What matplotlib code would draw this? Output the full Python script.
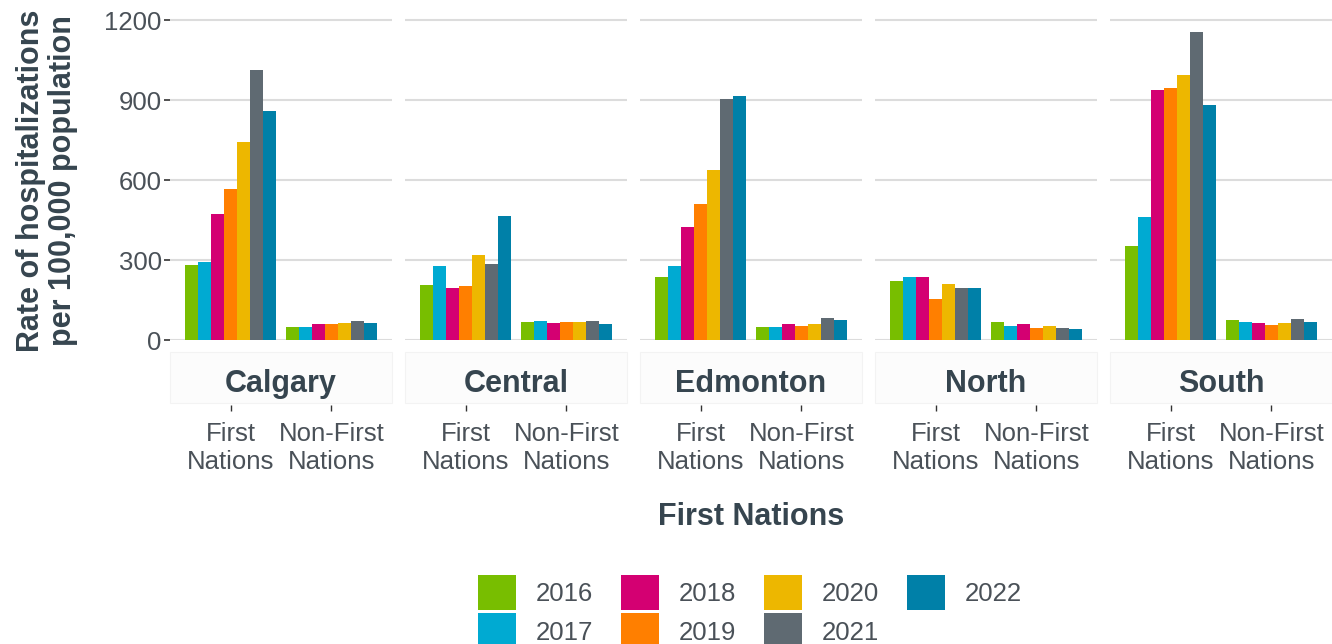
import numpy as np
import matplotlib
matplotlib.use('Agg')
import matplotlib.pyplot as plt
from matplotlib.patches import Patch, Rectangle

plt.rcParams['font.family'] = ['Liberation Sans', 'DejaVu Sans']

# data
regions = ['Calgary', 'Central', 'Edmonton', 'North', 'South']
groups = ['First\nNations', 'Non-First\nNations']
years = ['2016', '2017', '2018', '2019', '2020', '2021', '2022']
year_colors = ['#78BE00', '#00AAD2', '#D40072', '#FF7F00', '#EDB700', '#5F6A72', '#0080A8']

# rows = regions, columns = years
first_nations = [
    [281, 294, 472, 568, 741, 1011, 860],
    [208, 279, 195, 204, 317, 285, 464],
    [238, 279, 424, 509, 638, 905, 915],
    [223, 237, 237, 154, 211, 195, 195],
    [353, 463, 936, 944, 995, 1154, 881],
]
non_first_nations = [
    [47, 50, 61, 59, 64, 72, 65],
    [68, 70, 65, 68, 68, 71, 60],
    [49, 47, 59, 53, 60, 83, 76],
    [66, 53, 59, 46, 54, 46, 40],
    [75, 69, 64, 57, 64, 80, 68],
]

W, H = 1332, 644
fig = plt.figure(figsize=(W / 100, H / 100), dpi=100)

txt_col = '#4A5158'
title_col = '#36454F'
panel_left = [170, 405, 640, 875, 1110]
panel_w = 222
bar_w = 0.9 / len(years)

for r, region in enumerate(regions):
    ax = fig.add_axes([panel_left[r] / W, (H - 340) / H, panel_w / W, 340 / H])
    for j in range(len(years)):
        off = (j - (len(years) - 1) / 2) * bar_w
        ax.bar([1 + off, 2 + off], [first_nations[r][j], non_first_nations[r][j]],
               width=bar_w, color=year_colors[j], zorder=3, linewidth=0)
    ax.set_xlim(0.4, 2.6)
    ax.set_ylim(0, 1275)
    ax.set_yticks([0, 300, 600, 900, 1200])
    ax.yaxis.grid(True, color='#DCDCDC', linewidth=1.5, zorder=0)
    for s in ['top', 'right', 'left']:
        ax.spines[s].set_visible(False)
    ax.spines['bottom'].set_position(('outward', 47))
    ax.spines['bottom'].set_visible(False)
    ax.set_xticks([1, 2])
    ax.set_xticklabels(groups, fontsize=18.5, color=txt_col, linespacing=1.2)
    ax.tick_params(axis='x', length=4, width=1, color='#333333', pad=8)
    if r == 0:
        ax.set_yticklabels(['0', '300', '600', '900', '1200'], fontsize=18.5, color=txt_col)
        ax.tick_params(axis='y', length=4, width=1.2, color='#333333', pad=2)
    else:
        ax.tick_params(axis='y', length=0, labelleft=False)
    # facet strip below the panel
    strip = Rectangle((0, -63 / 340), 1, 51 / 340, transform=ax.transAxes,
                      facecolor='#FCFCFC', edgecolor='#F3F3F3', linewidth=0.8,
                      clip_on=False, zorder=1)
    ax.add_patch(strip)
    ax.text(0.5, -44 / 340, region, transform=ax.transAxes, ha='center', va='center',
            fontsize=22, fontweight='bold', color=title_col)

fig.text(751 / W, 1 - 517 / H, 'First Nations', ha='center', va='center',
         fontsize=22, fontweight='bold', color=title_col)
fig.text(47 / W, 1 - 181 / H, 'Rate of hospitalizations\nper 100,000 population',
         ha='center', va='center', rotation=90, fontsize=22, fontweight='bold',
         color=title_col, linespacing=1.1)

handles = [Patch(facecolor=c, edgecolor='none', label=y) for y, c in zip(years, year_colors)]
fig.legend(handles=handles, loc='upper center', bbox_to_anchor=(750 / W, 1 - 562 / H),
           ncol=4, frameon=False, fontsize=18.5, handlelength=1.48, handleheight=1.75,
           handletextpad=0.75, columnspacing=1.1, labelspacing=0.12, borderpad=0,
           labelcolor=txt_col)

fig.savefig('out.png', dpi=100)
